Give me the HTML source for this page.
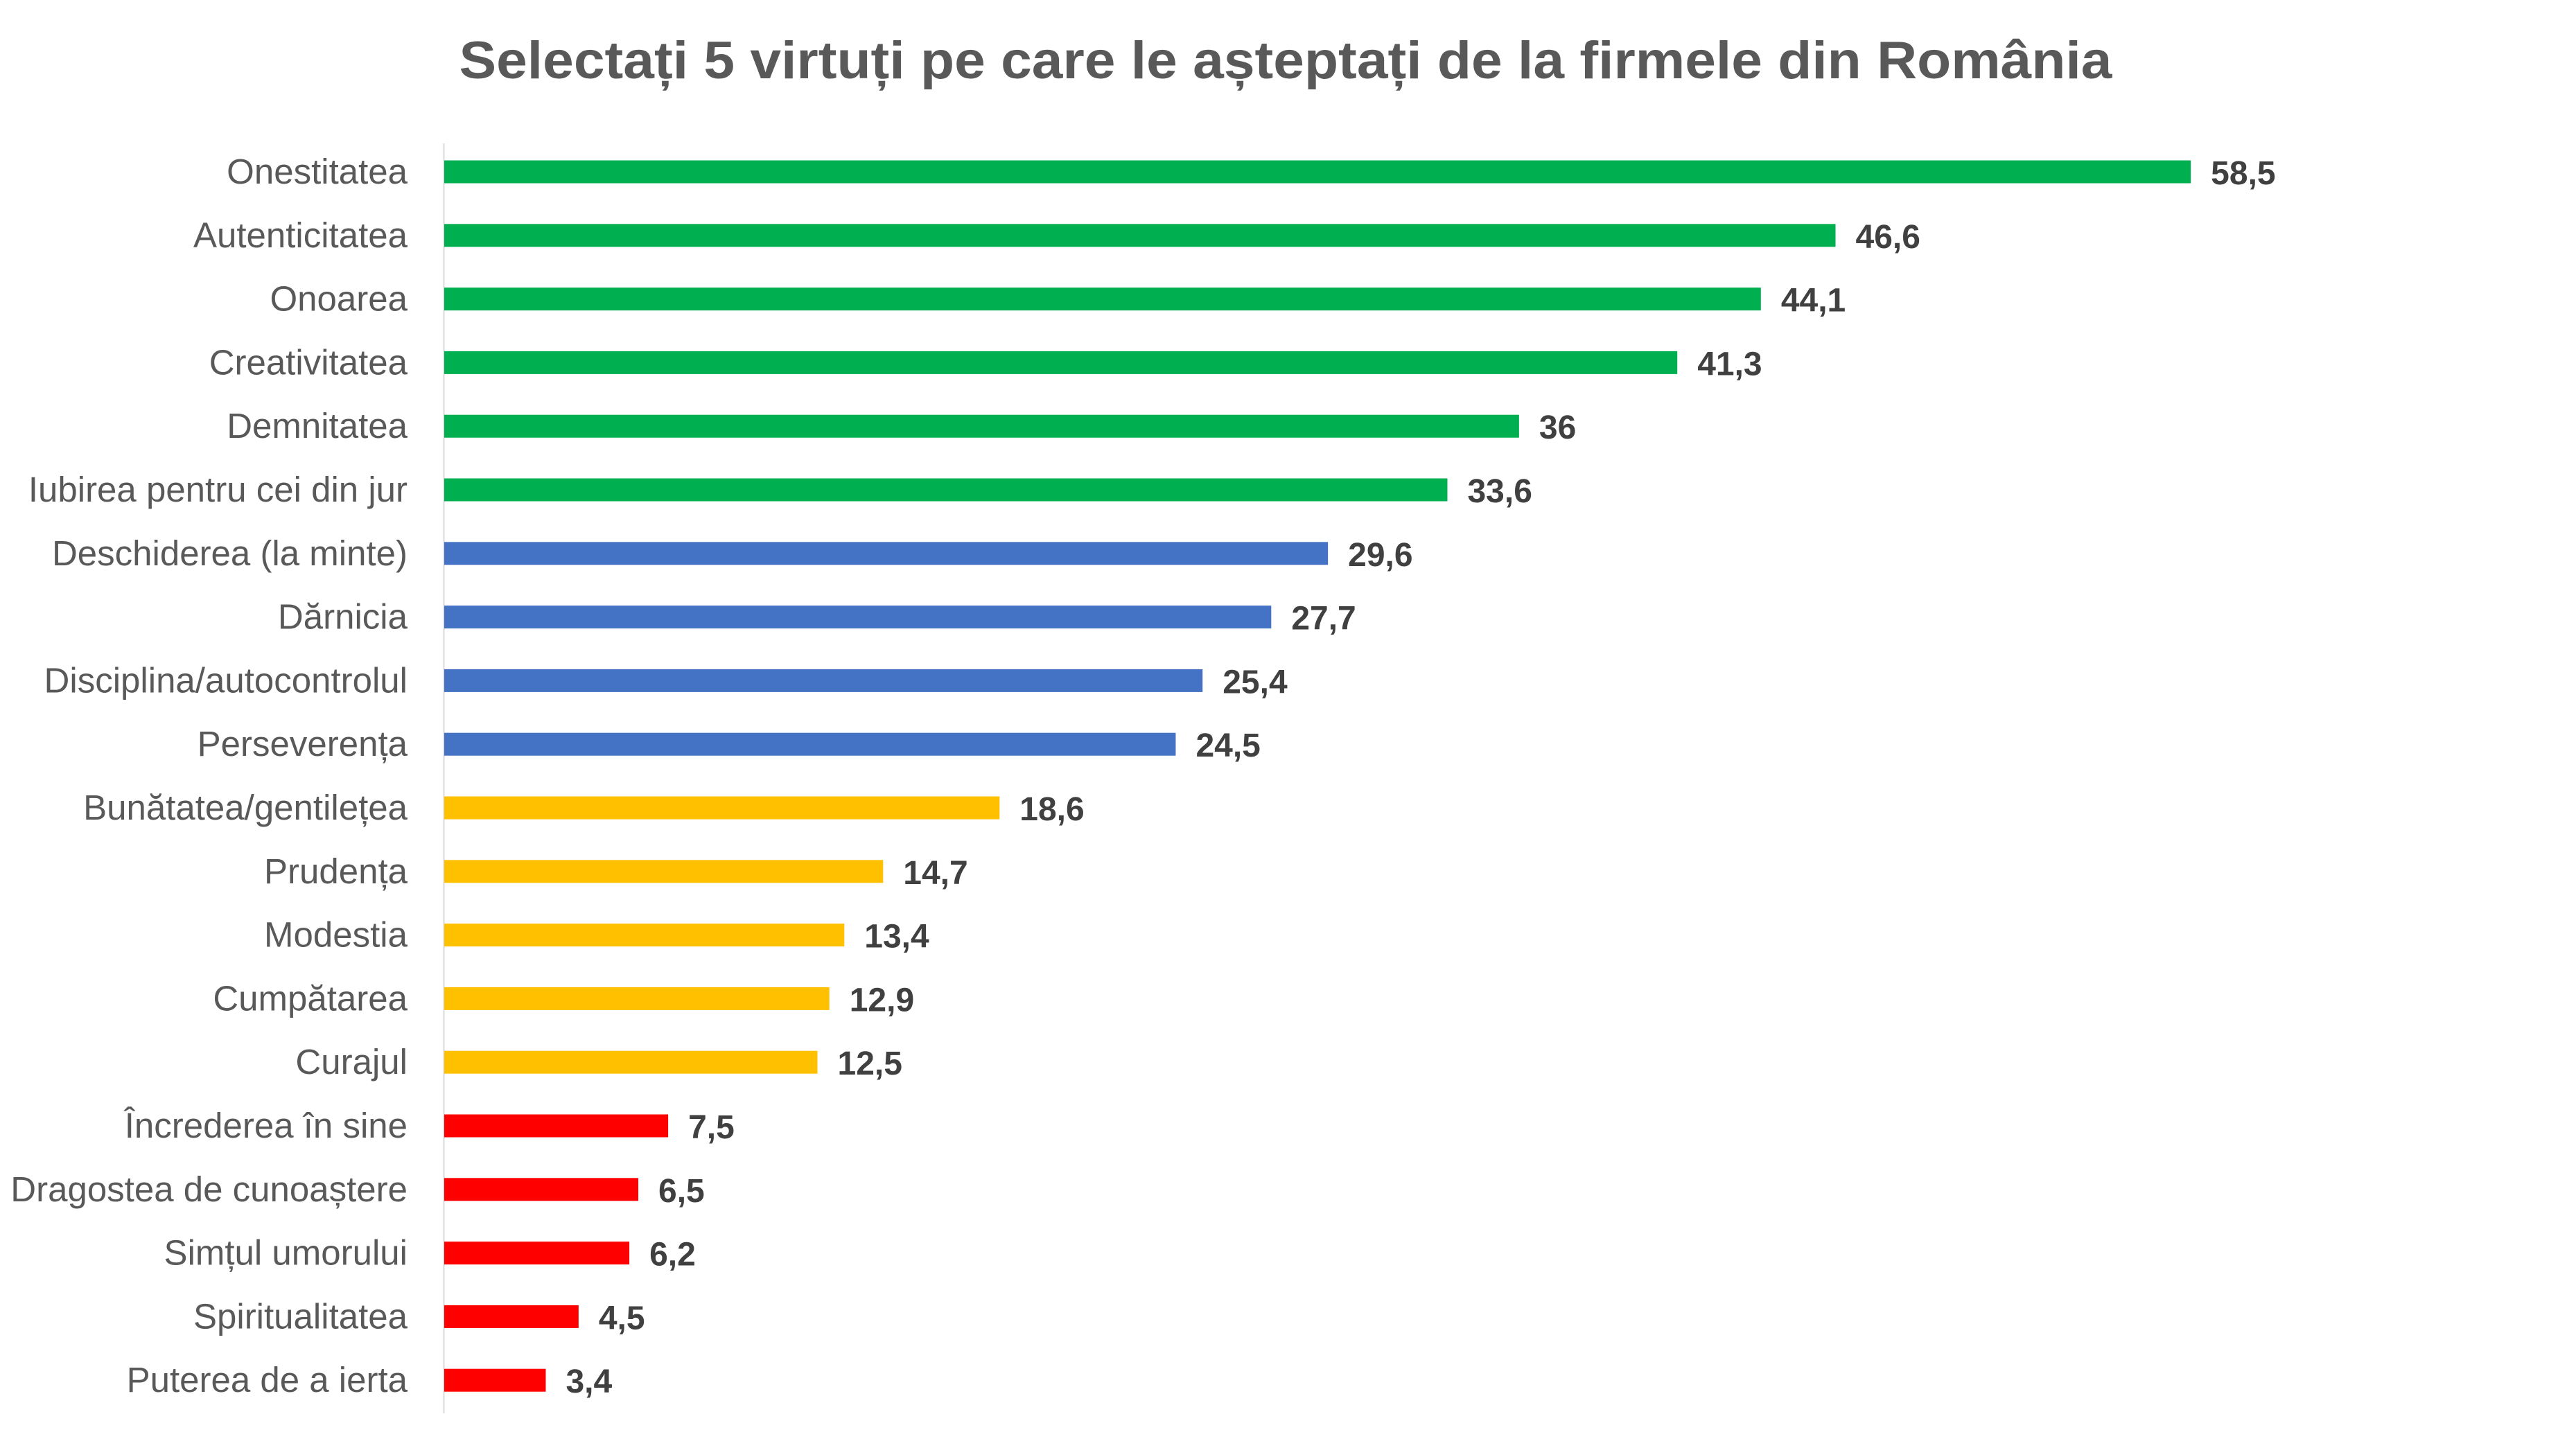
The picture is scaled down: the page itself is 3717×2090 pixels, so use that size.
<!DOCTYPE html>
<html><head><meta charset="utf-8"><style>
html,body{margin:0;padding:0;background:#fff;}
svg{display:block;}
.c{font-family:"Liberation Sans",sans-serif;font-size:51px;fill:#595959;text-anchor:end;}
.v{font-family:"Liberation Sans",sans-serif;font-size:48px;font-weight:bold;fill:#404040;}
</style></head><body>
<svg width="3717" height="2090" xmlns="http://www.w3.org/2000/svg">
<text x="1855" y="113" text-anchor="middle" font-family="Liberation Sans, sans-serif" font-weight="bold" font-size="76" fill="#595959" textLength="2385" lengthAdjust="spacingAndGlyphs">Selectați 5 virtuți pe care le așteptați de la firmele din România</text>
<line x1="640.5" y1="207" x2="640.5" y2="2040" stroke="#d9d9d9" stroke-width="2"/>
<g id="bars"></g>
</svg>
<script>
var d=[["Onestitatea",58.5,"#00B050"],["Autenticitatea",46.6,"#00B050"],["Onoarea",44.1,"#00B050"],["Creativitatea",41.3,"#00B050"],["Demnitatea",36,"#00B050"],["Iubirea pentru cei din jur",33.6,"#00B050"],["Deschiderea (la minte)",29.6,"#4472C4"],["Dărnicia",27.7,"#4472C4"],["Disciplina/autocontrolul",25.4,"#4472C4"],["Perseverența",24.5,"#4472C4"],["Bunătatea/gentilețea",18.6,"#FFC000"],["Prudența",14.7,"#FFC000"],["Modestia",13.4,"#FFC000"],["Cumpătarea",12.9,"#FFC000"],["Curajul",12.5,"#FFC000"],["Încrederea în sine",7.5,"#FF0000"],["Dragostea de cunoaștere",6.5,"#FF0000"],["Simțul umorului",6.2,"#FF0000"],["Spiritualitatea",4.5,"#FF0000"],["Puterea de a ierta",3.4,"#FF0000"]];
var g=document.getElementById("bars"),h="";
d.forEach(function(r,i){var cy=248+i*91.8,w=r[1]*43.08;
h+='<rect x="641" y="'+(cy-16.5)+'" width="'+w+'" height="33" fill="'+r[2]+'"/>';
h+='<text class="c" x="588" y="'+(cy+17)+'">'+r[0]+'</text>';
h+='<text class="v" x="'+(641+w+29)+'" y="'+(cy+18)+'">'+String(r[1]).replace(".",",")+'</text>';});
g.innerHTML=h;
</script>
</body></html>
